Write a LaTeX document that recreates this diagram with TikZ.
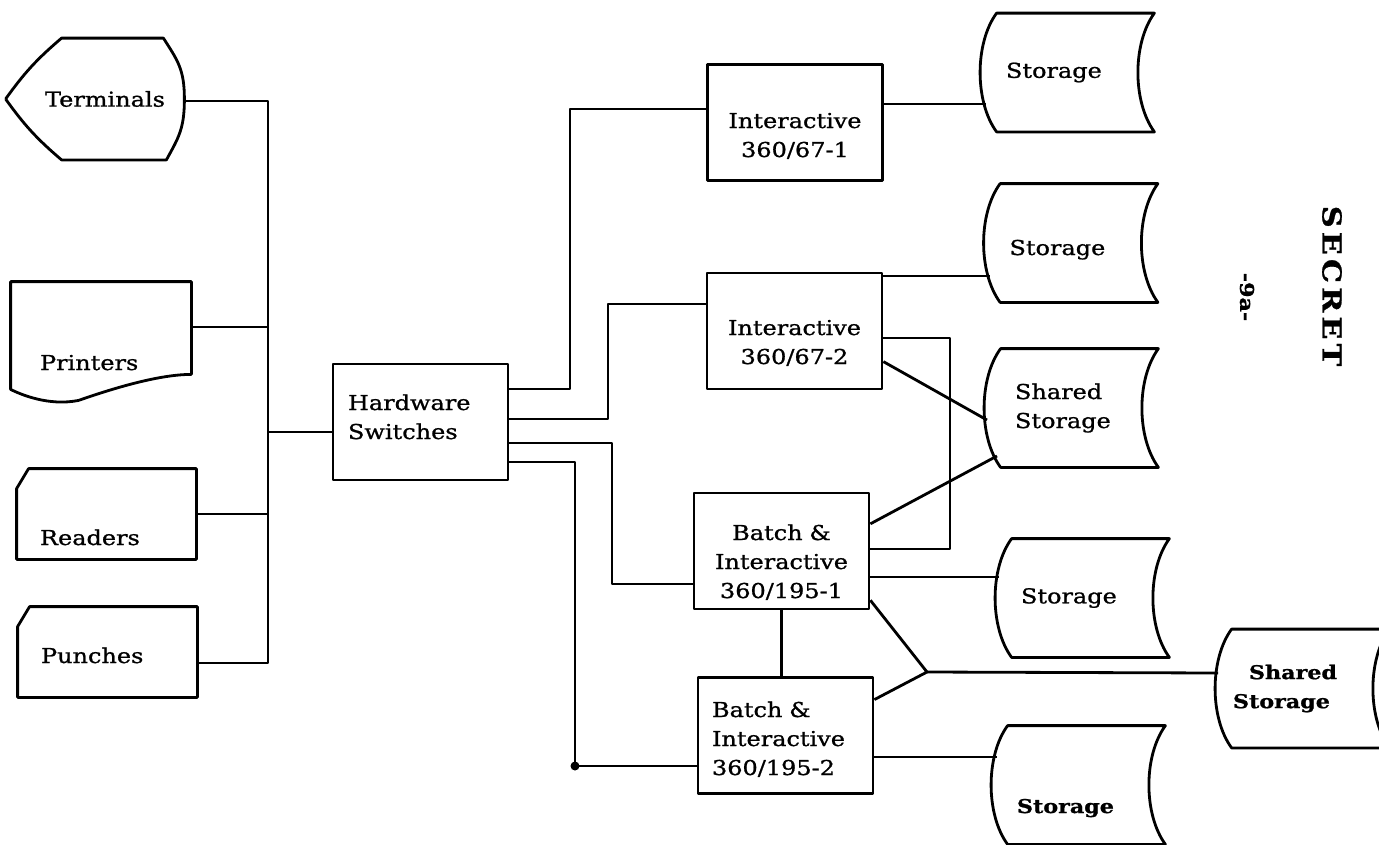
\documentclass[tikz,border=0pt]{standalone}
\usepackage{fontspec}
\setmainfont{DejaVu Serif}[FakeStretch=1.17,FakeBold=1]

\begin{document}
\begin{tikzpicture}[x=1pt,y=-1pt,line width=2.8pt,line join=round,
  font=\fontsize{20.5}{29}\selectfont,
  unit/.style={draw,minimum width=175pt,minimum height=116pt,inner xsep=8pt,inner ysep=2pt,text width=159pt,align=center},
  store/.style={minimum width=155pt,minimum height=116pt,inner xsep=8pt,inner ysep=2pt,text width=139pt,align=left,
    append after command={\pgfextra{\draw (\tikzlastnode.north west)
      .. controls +(-22,30) and +(-22,-30) .. (\tikzlastnode.south west)
      -- (\tikzlastnode.south east)
      .. controls +(-22,-30) and +(-22,30) .. (\tikzlastnode.north east) -- cycle;}}},
  card/.style={minimum width=177pt,minimum height=88pt,inner xsep=22pt,inner ysep=2pt,text width=133pt,align=left,
    append after command={\pgfextra{\draw ([shift={(0,20)}]\tikzlastnode.north west)
      -- ([shift={(12,0)}]\tikzlastnode.north west) -- (\tikzlastnode.north east)
      -- (\tikzlastnode.south east) -- (\tikzlastnode.south west) -- cycle;}}},
  boldtext/.style={font=\fontsize{19}{29}\selectfont\bfseries}]
\useasboundingbox (0,0) rectangle (1379,844);
%%%DEVICES
\node (term) at (105,99) [minimum width=156pt,minimum height=119pt] {Terminals};
\draw ([shift={(-20,0)}]term.west) to[bend left=7] ([shift={(36,0)}]term.north west)
  -- ([shift={(-21,0)}]term.north east) .. controls +(14,22) and +(0,-30) .. (term.east)
  .. controls +(0,30) and +(12,-22) .. ([shift={(-18,0)}]term.south east)
  -- ([shift={(36,0)}]term.south west) to[bend left=7] ([shift={(-20,0)}]term.west);
\node (prn) at (101,341.5) [minimum width=178pt,minimum height=117pt,inner xsep=28pt,inner ysep=2pt,
  text width=122pt,align=left,text height=62pt,text depth=5pt] {Printers};
\draw (prn.north west) -- (prn.north east) -- ([shift={(0,-27)}]prn.south east)
  .. controls +(-30,0) and +(40,-14) .. ([shift={(68,-1)}]prn.south west)
  .. controls +(-30,6) and +(10,5) .. ([shift={(0,-12)}]prn.south west) -- cycle;
\node[card,text height=67pt,text depth=5pt] (rdr) at (106.5,514) {Readers};
\node[card,text height=27pt,text depth=5pt] (pun) at (107.5,652) {Punches};
%%%SWITCH AND PROCESSORS
\node[unit,text width=145pt,inner xsep=15pt,align=left,text height=5pt,text depth=29pt] (hs) at (420.5,422) {Hardware\\Switches};
\node[unit,text height=42pt,text depth=31pt] (ia1) at (795,122.5) {Interactive\\360/67-1};
\node[unit,text height=39pt,text depth=31pt] (ia2) at (794.5,331) {Interactive\\360/67-2};
\node[unit,text height=38pt,text depth=60pt] (bi1) at (781.5,551) {Batch \&\\Interactive\\360/195-1};
\node[unit,text width=147pt,inner xsep=14pt,align=left,text height=23pt,text depth=60pt] (bi2) at (785.5,735.5) {Batch \&\\Interactive\\360/195-2};
%%%STORAGE
\node[store] (st1) at (1075.5,72.5) {Storage};
\node[store,text height=29pt,text depth=5pt] (st2) at (1079,243) {Storage};
\node[store,inner xsep=13pt,text width=129pt] (sh1) at (1079.5,408) {Shared\\Storage};
\node[store] (st3) at (1090.5,598) {Storage};
\node[store,boldtext,text height=61pt,text depth=5pt] (st4) at (1086.5,785) {Storage};
\node[store,boldtext,inner xsep=0pt,text width=155pt] (sh2) at (1310.5,688.5) {\hspace*{16pt}Shared\\Storage};
%%%MARKS
\node[rotate=-90,font=\fontsize{26}{26}\selectfont\bfseries] (stamp) at (1332,286) {\spaceskip=4pt\relax S E C R E T};
\node[rotate=-90,font=\fontsize{19}{19}\selectfont\bfseries] (page) at (1247,297) {-9a-};
%%%CONNECTIONS
\coordinate (bt) at (268,101);
\coordinate (bb) at (268,663);
\coordinate (bp) at (268,327);
\coordinate (bh) at (268,432);
\draw (term.east |- bt) -- (bt) -- (bb) -- (pun.east |- bb);
\draw (prn.east |- bp) -- (bp);
\draw (rdr.east) -- (rdr.east -| bt);
\draw (bh) -- (bh -| hs.west);
\coordinate (h1) at (570,389); \coordinate (h1t) at (570,109);
\draw (hs.east |- h1) -- (h1) -- (h1t) -- (ia1.west |- h1t);
\coordinate (h2) at (608,419); \coordinate (h2t) at (608,304);
\draw (hs.east |- h2) -- (h2) -- (h2t) -- (ia2.west |- h2t);
\coordinate (h3) at (612,443); \coordinate (h3b) at (612,584);
\draw (hs.east |- h3) -- (h3) -- (h3b) -- (bi1.west |- h3b);
\coordinate (h4) at (575,462); \coordinate (h4b) at (575,766);
\draw (hs.east |- h4) -- (h4) -- (h4b) -- (bi2.west |- h4b);
\fill (h4b) circle (4.5pt);
\coordinate (s1) at (986,104);
\draw (ia1.east |- s1) -- (s1);
\coordinate (s2) at (990,276);
\draw (ia2.east |- s2) -- (s2);
\coordinate (q1) at (950,338); \coordinate (q2) at (950,549);
\draw (ia2.east |- q1) -- (q1) -- (q2) -- (bi1.east |- q2);
\coordinate (s3) at (987,420);
\draw (ia2.-19.5) -- (s3);
\coordinate (s4) at (997,456);
\draw (bi1.17.7) -- (s4);
\coordinate (s5) at (999,577);
\draw (bi1.east |- s5) -- (s5);
\draw (bi1.south) -- (bi1.south |- bi2.north);
\coordinate (jn) at (927,672);
\draw (bi1.-29.2) -- (jn) -- (bi2.22);
\coordinate (s6) at (1218,673);
\draw (jn) -- (s6);
\coordinate (s7) at (997,757);
\draw (bi2.east |- s7) -- (s7);
\end{tikzpicture}
\end{document}
